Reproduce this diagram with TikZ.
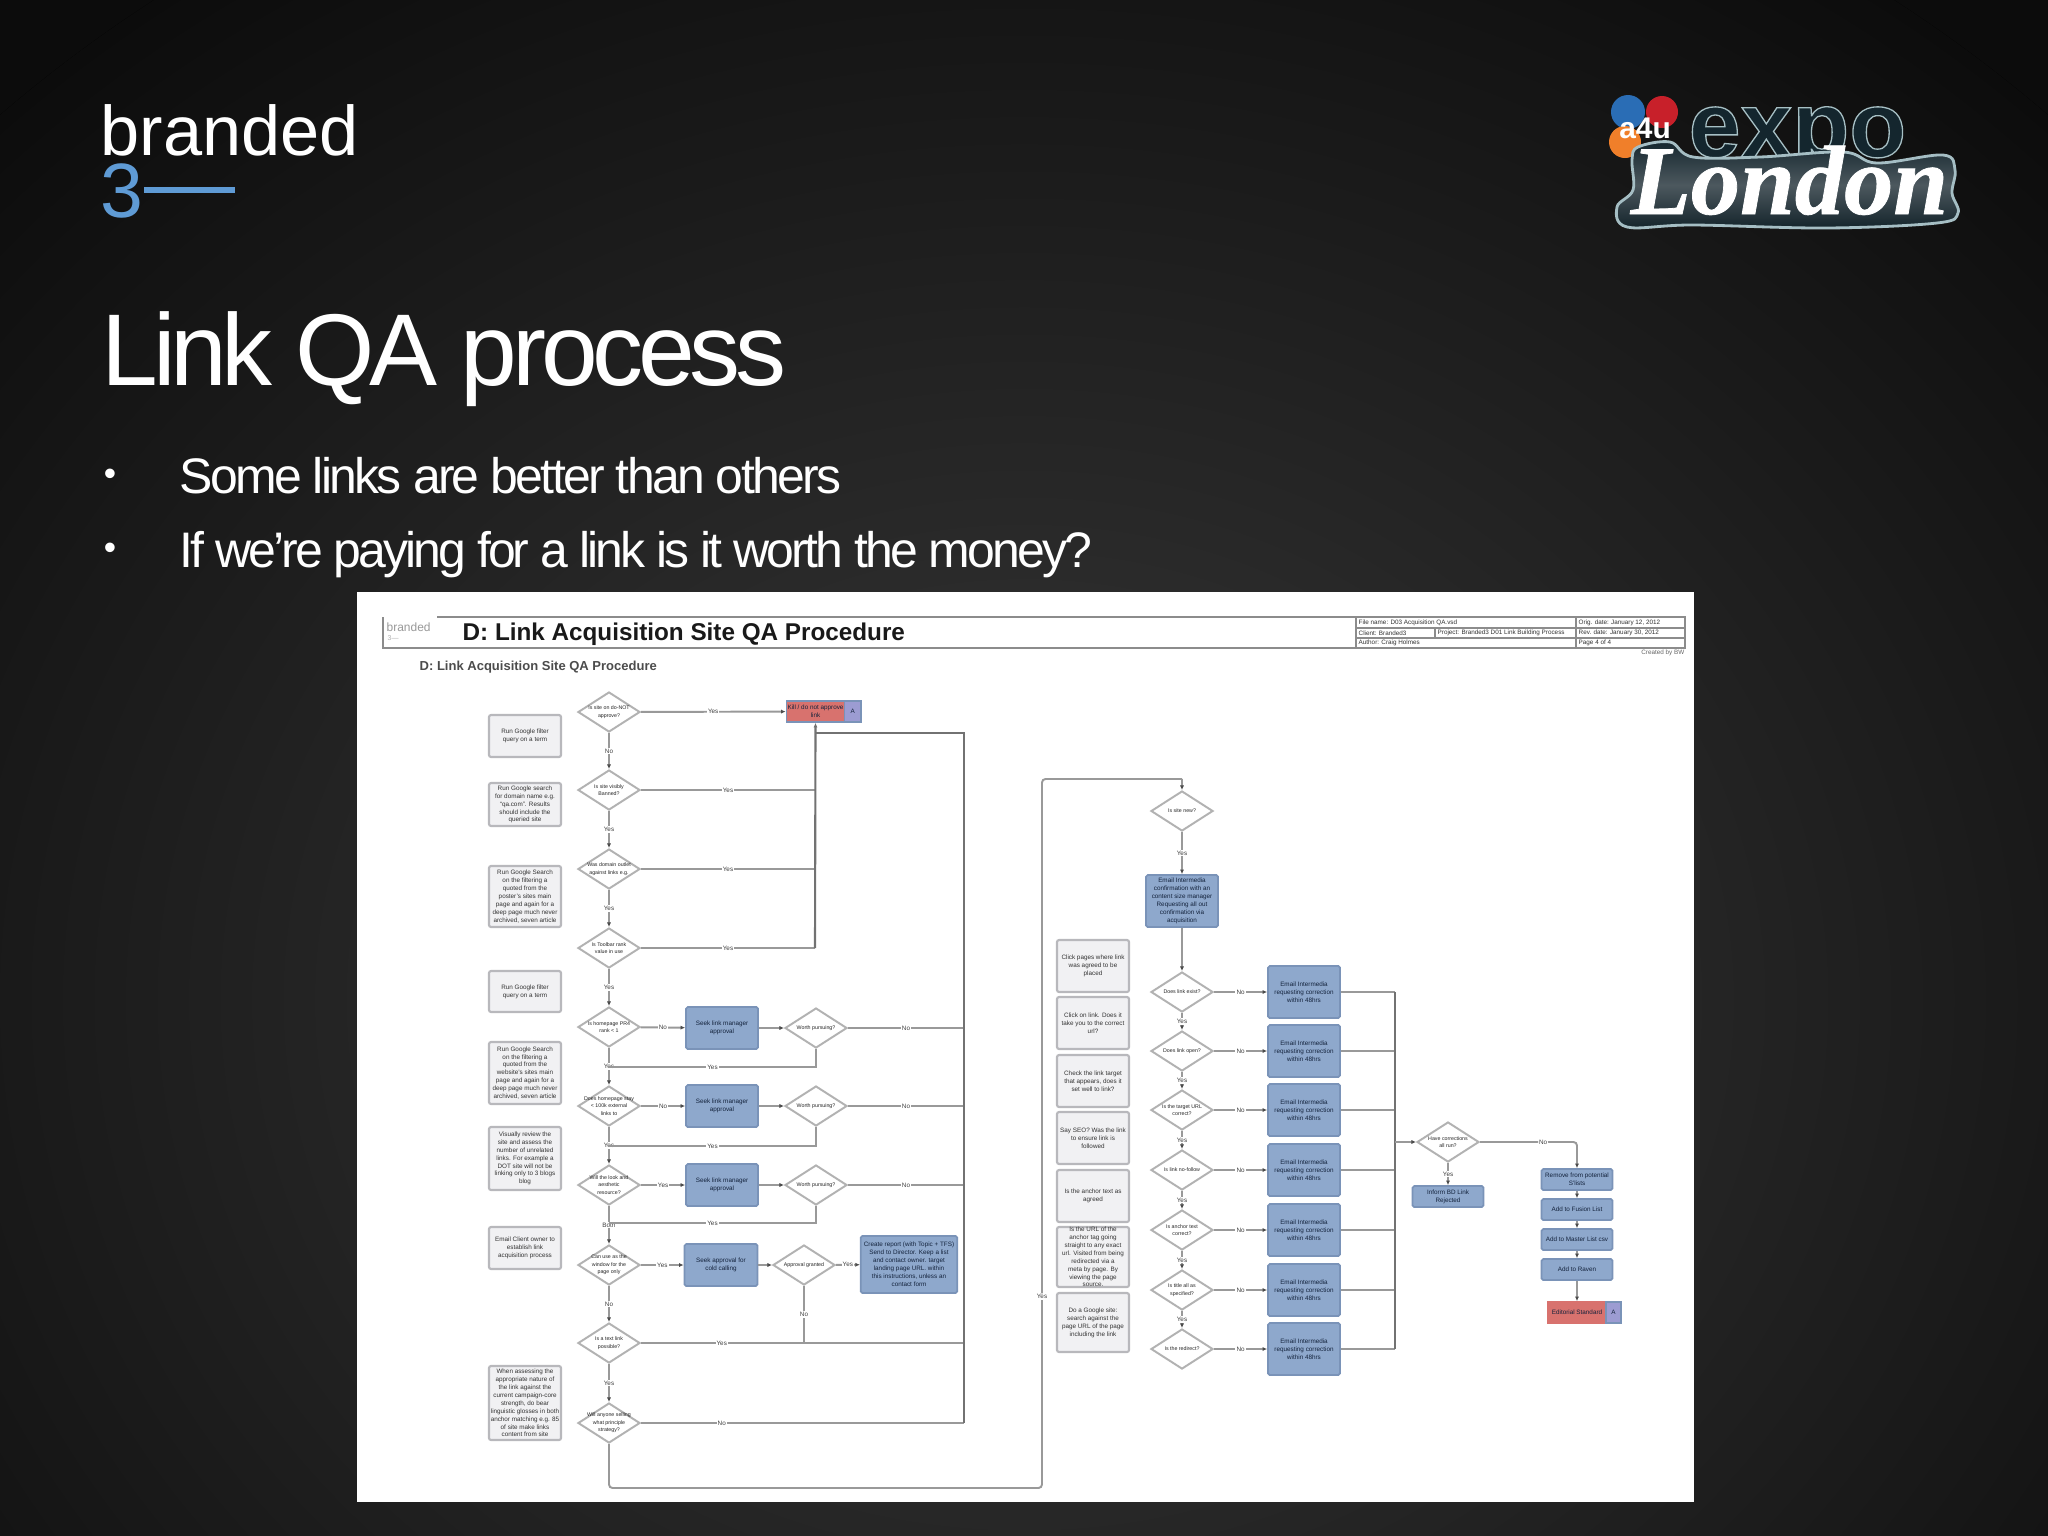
\documentclass[tikz,border=0pt]{standalone}
\usepackage{fontspec}
\setmainfont{Liberation Sans}
\newfontfamily\titlefont{Liberation Sans}[LetterSpace=-5.2]
\newfontfamily\slidefont{Liberation Sans}[LetterSpace=-5.5]
\newfontfamily\slidefontb{Liberation Sans}[LetterSpace=-5.9]
\newfontfamily\londonfont{Liberation Serif}[BoldItalicFeatures={FakeBold=0.8}]
\newfontfamily\expofont{Liberation Sans}[BoldFeatures={FakeBold=1.4}]
\usetikzlibrary{shapes.geometric,arrows.meta}
\definecolor{slidebg}{HTML}{3A3A3A}
\definecolor{slideedge}{HTML}{0C0C0C}
\definecolor{flowline}{HTML}{999999}
\definecolor{trunkline}{HTML}{727272}
\definecolor{notefill}{HTML}{F1F1F3}
\definecolor{noteline}{HTML}{B8B8BC}
\definecolor{bluefill}{HTML}{8EA8CC}
\definecolor{blueline}{HTML}{7A93B8}
\definecolor{bluetext}{HTML}{14233C}
\definecolor{redfill}{HTML}{D8726E}
\definecolor{purplefill}{HTML}{9C9CD2}
\definecolor{logoblue}{HTML}{5F9BD5}
\definecolor{blobdark}{HTML}{14262E}
\definecolor{blobmid}{HTML}{4C585E}
\definecolor{bloblight}{HTML}{A5BEC4}
\definecolor{ballblue}{HTML}{2A6DB5}
\definecolor{ballred}{HTML}{C8202A}
\definecolor{ballorange}{HTML}{F07F2A}
\newcommand{\tinytext}{\fontsize{1.8}{2.25}\selectfont}
\newcommand{\tinierdiamond}{\fontsize{1.5}{2.1}\selectfont}
\tikzset{
    notebox/.style={draw=noteline, fill=notefill, rounded corners=0.6pt, line width=0.6pt, inner sep=0pt,
        minimum width=0.72cm, align=center, font=\tinytext, text=black!80},
    bluebox/.style={draw=blueline, fill=bluefill, rounded corners=0.5pt, line width=0.5pt, inner sep=0pt,
        align=center, font=\tinytext, text=bluetext},
    decision/.style={diamond, draw=black!30, fill=white, line width=0.55pt, inner sep=-1.5pt, aspect=1.55,
        minimum width=0.62cm, minimum height=0.40cm, align=center, font=\tinierdiamond, text=black!85},
    flow/.style={draw=flowline, line width=0.55pt, -{Latex[length=1.3pt,width=1.2pt,black!70]}},
    plainflow/.style={draw=flowline, line width=0.55pt},
    trunk/.style={draw=trunkline, line width=0.6pt},
    lbl/.style={fill=white, inner sep=0.3pt, font=\tinytext, text=black!75},
    slidetext/.style={anchor=base west, inner sep=0pt, text=white},
    cellline/.style={draw=black!45, line width=0.4pt},
    celltext/.style={anchor=west, inner sep=0pt, font=\tinytext, text=black!80}
}
\begin{document}
\begin{tikzpicture}[x=0.01cm, y=-0.01cm]
    \useasboundingbox (0,0) rectangle (2048,1536);
    % slide background
    \fill[slideedge] (0,0) rectangle (2048,1536);
    \begin{scope}
        \clip (0,0) rectangle (2048,1536);
        \fill[inner color=slidebg, outer color=slideedge] (1024,1000) ellipse (1450 and 1250);
    \end{scope}

    % branded3 logo
    \node[slidetext, font=\fontsize{20}{20}\selectfont] (brand) at (100,155) {branded};
    \node[slidetext, text=logoblue, font=\fontsize{21.9}{22}\selectfont] (three) at (100,217) {3};
    \coordinate (bar_end) at (235,190);
    \draw[logoblue, line width=1.7pt] (three.east |- bar_end) -- (bar_end);

    % expo logo
    \fill[ballblue] (1628,112) circle (17) coordinate (ball_1);
    \fill[ballred] (1662,112) circle (16) coordinate (ball_2);
    \fill[ballorange] (1625,142) circle (16) coordinate (ball_3);
    \node[inner sep=0pt, text=white, font=\fontsize{8.5}{9}\bfseries\selectfont] (a4u) at (1645,128) {a4u};
    \node[slidetext, text=blobdark, font=\expofont\fontsize{26.5}{27}\bfseries\selectfont] (expo) at (1688,157)
        {\special{pdf:code 0.65 0.75 0.77 RG}expo};
    \draw[draw=bloblight, line width=0.8pt, top color=blobdark, bottom color=blobdark!90!black, middle color=blobmid]
        plot[smooth cycle, tension=0.6] coordinates {(1638,147) (1670,142) (1693,157) (1760,157) (1843,152) (1877,163)
        (1943,155) (1955,170) (1952,193) (1958,213) (1937,223) (1827,228) (1693,225) (1627,227) (1617,207) (1633,190) (1632,160)};
    \node[slidetext, font=\londonfont\fontsize{28}{28}\bfseries\itshape\selectfont] (london) at (1630,214) {London};

    % slide title and bullets
    \node[slidetext, font=\titlefont\fontsize{29}{30}\selectfont] (title) at (101,385) {Link QA process};
    \node[anchor=center, inner sep=0pt, text=white, font=\fontsize{10}{11}\selectfont] (dot_1) at (110,477) {•};
    \node[anchor=center, inner sep=0pt, text=white, font=\fontsize{10}{11}\selectfont] (dot_2) at (110,551) {•};
    \node[slidetext, font=\slidefont\fontsize{14.2}{15}\selectfont] (bullet_1) at (179,493) {Some links are better than others};
    \node[slidetext, font=\slidefontb\fontsize{14.2}{15}\selectfont] (bullet_2) at (179,567) {If we’re paying for a link is it worth the money?};

    % the sheet
    \fill[white] (357,592) rectangle (1694,1502);
    \draw[cellline] (383,617) -- (383,648) -- (1685,648) -- (1685,617) -- (437,617);
    \draw[cellline] (1356,617) -- (1356,648);
    \draw[cellline] (1576,617) -- (1576,648);
    \draw[cellline] (1435,628) -- (1435,638);
    \draw[cellline] (1356,628) -- (1685,628);
    \draw[cellline] (1356,638) -- (1685,638);
    \node[anchor=west, inner sep=0pt, text=black!40, font=\fontsize{3.4}{4}\selectfont] (sheet_logo) at (386,627) {branded};
    \node[anchor=west, inner sep=0pt, text=black!30, font=\fontsize{2}{2}\selectfont] (sheet_three) at (387,638) {3—};
    \node[anchor=west, inner sep=0pt, font=\fontsize{6.9}{7}\bfseries\selectfont, text=black!90] (sheet_title) at (462,634) {D: Link Acquisition Site QA Procedure};
    \node[anchor=west, inner sep=0pt, font=\fontsize{3.7}{4}\bfseries\selectfont, text=black!70] (sheet_sub) at (419,667) {D: Link Acquisition Site QA Procedure};
    \node[celltext] (cell_1) at (1358,622.5) {File name: D03 Acquisition QA.vsd};
    \node[celltext] (cell_2) at (1358,633) {Client: Branded3};
    \node[celltext] (cell_3) at (1437,633) {Project: Branded3 D01 Link Building Process};
    \node[celltext] (cell_4) at (1358,643) {Author: Craig Holmes};
    \node[celltext] (cell_5) at (1578,622.5) {Orig. date: January 12, 2012};
    \node[celltext] (cell_6) at (1578,633) {Rev. date: January 30, 2012};
    \node[celltext] (cell_7) at (1578,643) {Page 4 of 4};
    \node[anchor=east, inner sep=0pt, font=\tinytext, text=black!60] (cell_8) at (1685,653) {Created by BW};

    % left column notes
    \node[notebox, minimum height=0.42cm] (N_1) at (525,736) {Run Google filter\\query on a term};
    \node[notebox, minimum height=0.43cm] (N_2) at (525,804.5) {Run Google search\\for domain name e.g.\\``qa.com''. Results\\should include the\\queried site};
    \node[notebox, minimum height=0.61cm] (N_3) at (525,896.5) {Run Google Search\\on the filtering a\\quoted from the\\poster's sites main\\page and again for a\\deep page much never\\archived, seven article};
    \node[notebox, minimum height=0.41cm] (N_4) at (525,991.5) {Run Google filter\\query on a term};
    \node[notebox, minimum height=0.62cm] (N_5) at (525,1073) {Run Google Search\\on the filtering a\\quoted from the\\website's sites main\\page and again for a\\deep page much never\\archived, seven article};
    \node[notebox, minimum height=0.63cm] (N_6) at (525,1158.5) {Visually review the\\site and assess the\\number of unrelated\\links. For example a\\DOT site will not be\\linking only to 3 blogs\\blog};
    \node[notebox, minimum height=0.42cm] (N_7) at (525,1248) {Email Client owner to\\establish link\\acquisition process};
    \node[notebox, minimum height=0.74cm] (N_8) at (525,1403) {When assessing the\\appropriate nature of\\the link against the\\current campaign-core\\strength, do bear\\linguistic glosses in both\\anchor matching e.g. 85\\of site make links\\content from site};

    % left column decisions
    \node[decision] (D_1) at (609,712) {Is site on do-NOT\\approve?};
    \node[decision] (D_2) at (609,790) {Is site visibly\\Banned?};
    \node[decision] (D_3) at (609,869) {Was domain outlet\\against links e.g.};
    \node[decision] (D_4) at (609,948) {Is Toolbar rank\\value in use};
    \node[decision] (D_5) at (609,1027) {Is homepage PR4\\rank < 1};
    \node[decision] (D_6) at (609,1106) {Does homepage stay\\< 100k external\\links to};
    \node[decision] (D_7) at (609,1185) {Will the look and\\aesthetic\\resource?};
    \node[decision] (D_8) at (609,1265) {Can use as the\\window for the\\page only};
    \node[decision] (D_9) at (609,1343) {Is a text link\\possible?};
    \node[decision] (D_10) at (609,1423) {Will anyone selling\\what principle\\strategy?};

    % left column actions
    \node[bluebox, minimum width=0.72cm, minimum height=0.42cm] (B_1) at (722,1028) {Seek link manager\\approval};
    \node[bluebox, minimum width=0.72cm, minimum height=0.42cm] (B_2) at (722,1106) {Seek link manager\\approval};
    \node[bluebox, minimum width=0.72cm, minimum height=0.42cm] (B_3) at (722,1185) {Seek link manager\\approval};
    \node[bluebox, minimum width=0.73cm, minimum height=0.42cm] (B_4) at (721,1265) {Seek approval for\\cold calling};
    \node[decision] (E_1) at (816,1028) {Worth pursuing?};
    \node[decision] (E_2) at (816,1106) {Worth pursuing?};
    \node[decision] (E_3) at (816,1185) {Worth pursuing?};
    \node[decision] (E_4) at (804,1265) {Approval granted};
    \node[bluebox, minimum width=0.965cm, minimum height=0.57cm] (B_5) at (909,1264.5) {Create report (with Topic + TFS)\\Send to Director. Keep a list\\and contact owner. target\\landing page URL. within\\this instructions, unless an\\contact form};
    \node[bluebox, fill=redfill, minimum width=0.58cm, minimum height=0.21cm, rounded corners=0pt] (R_1) at (815.5,711.5) {Kill / do not approve\\link};
    \node[bluebox, fill=purplefill, minimum width=0.165cm, minimum height=0.21cm, rounded corners=0pt] (P_1) at (852.75,711.5) {A};

    % left column joins
    \coordinate (J_1) at (609,1067);
    \coordinate (J_2) at (609,1146);
    \coordinate (J_3) at (609,1223);
    \coordinate (T_top) at (964,733);
    \coordinate (T_1) at (964,1028);
    \coordinate (T_2) at (964,1106);
    \coordinate (T_3) at (964,1185);
    \coordinate (T_9) at (964,1343);
    \coordinate (T_10) at (964,1423);
    \coordinate (K_top) at (815,733);
    \coordinate (K_2) at (815,790);
    \coordinate (K_3) at (815,869);
    \coordinate (K_4) at (815,948);
    \coordinate (G_4) at (804,1343);
    \coordinate (S_1) at (609,1488);
    \coordinate (S_2) at (1042,1488);
    \coordinate (S_3) at (1042,779);
    \coordinate (S_4) at (1182,779);

    % left column connectors
    \draw[flow] (D_1) -- node[lbl] (L_1) {No} (D_2);
    \draw[flow] (D_2) -- node[lbl] (L_2) {Yes} (D_3);
    \draw[flow] (D_3) -- node[lbl] (L_3) {Yes} (D_4);
    \draw[flow] (D_4) -- node[lbl] (L_4) {Yes} (D_5);
    \draw[flow] (D_5) -- node[lbl] (L_5) {Yes} (D_6);
    \draw[flow] (D_6) -- node[lbl] (L_6) {Yes} (D_7);
    \draw[flow] (D_7) -- node[lbl] (L_7) {Both} (D_8);
    \draw[flow] (D_8) -- node[lbl] (L_8) {No} (D_9);
    \draw[flow] (D_9) -- node[lbl] (L_9) {Yes} (D_10);
    \draw[flow] (D_1) -- node[lbl] (L_10) {Yes} (R_1);
    \draw[plainflow] (D_2) -- node[lbl] (L_11) {Yes} (K_2);
    \draw[plainflow] (D_3) -- node[lbl] (L_12) {Yes} (K_3);
    \draw[plainflow] (D_4) -- node[lbl] (L_13) {Yes} (K_4);
    \draw[trunk, -{Latex[length=1.3pt,width=1.2pt]}] (K_4) -- (R_1.south);
    \draw[flow] (D_5) -- node[lbl] (L_14) {No} (B_1);
    \draw[flow] (D_6) -- node[lbl] (L_15) {No} (B_2);
    \draw[flow] (D_7) -- node[lbl] (L_16) {Yes} (B_3);
    \draw[flow] (D_8) -- node[lbl] (L_17) {Yes} (B_4);
    \draw[flow] (B_1) -- (E_1);
    \draw[flow] (B_2) -- (E_2);
    \draw[flow] (B_3) -- (E_3);
    \draw[flow] (B_4) -- (E_4);
    \draw[flow] (E_4) -- node[lbl] (L_18) {Yes} (B_5);
    \draw[plainflow] (E_1) |- node[lbl, pos=0.75] (L_19) {Yes} (J_1);
    \draw[plainflow] (E_2) |- node[lbl, pos=0.75] (L_20) {Yes} (J_2);
    \draw[plainflow] (E_3) |- node[lbl, pos=0.75] (L_21) {Yes} (J_3);
    \draw[plainflow] (E_1) -- node[lbl] (L_22) {No} (T_1);
    \draw[plainflow] (E_2) -- node[lbl] (L_23) {No} (T_2);
    \draw[plainflow] (E_3) -- node[lbl] (L_24) {No} (T_3);
    \draw[plainflow] (E_4) -- node[lbl] (L_25) {No} (G_4);
    \draw[plainflow] (D_9) -- node[lbl, pos=0.25] (L_26) {Yes} (T_9);
    \draw[plainflow] (D_10) -- node[lbl, pos=0.25] (L_27) {No} (T_10);
    \draw[trunk] (T_10) -- (T_top) -- (K_top);
    \draw[plainflow, rounded corners=1pt] (D_10) -- (S_1) -- (S_2) -- node[lbl, pos=0.27] (L_28) {Yes} (S_3) -- (S_4);

    % middle column
    \node[decision] (M_0) at (1182,811) {Is site new?};
    \node[bluebox, minimum width=0.72cm, minimum height=0.52cm] (A_0) at (1182,901) {Email Intermedia\\confirmation with an\\content size manager\\Requesting all out\\confirmation via\\acquisition};
    \node[decision] (M_1) at (1182,992) {Does link exist?};
    \node[decision] (M_2) at (1182,1051) {Does link open?};
    \node[decision] (M_3) at (1182,1110) {Is the target URL\\correct?};
    \node[decision] (M_4) at (1182,1170) {Is link no-follow};
    \node[decision] (M_5) at (1182,1230) {Is anchor text\\correct?};
    \node[decision] (M_6) at (1182,1290) {Is title all as\\specified?};
    \node[decision] (M_7) at (1182,1349) {Is the redirect?};
    \node[bluebox, minimum width=0.72cm, minimum height=0.52cm] (A_1) at (1304,992) {Email Intermedia\\requesting correction\\within 48hrs};
    \node[bluebox, minimum width=0.72cm, minimum height=0.52cm] (A_2) at (1304,1051) {Email Intermedia\\requesting correction\\within 48hrs};
    \node[bluebox, minimum width=0.72cm, minimum height=0.52cm] (A_3) at (1304,1110) {Email Intermedia\\requesting correction\\within 48hrs};
    \node[bluebox, minimum width=0.72cm, minimum height=0.52cm] (A_4) at (1304,1170) {Email Intermedia\\requesting correction\\within 48hrs};
    \node[bluebox, minimum width=0.72cm, minimum height=0.52cm] (A_5) at (1304,1230) {Email Intermedia\\requesting correction\\within 48hrs};
    \node[bluebox, minimum width=0.72cm, minimum height=0.52cm] (A_6) at (1304,1290) {Email Intermedia\\requesting correction\\within 48hrs};
    \node[bluebox, minimum width=0.72cm, minimum height=0.52cm] (A_7) at (1304,1349) {Email Intermedia\\requesting correction\\within 48hrs};
    \node[notebox, minimum height=0.52cm] (O_1) at (1093,966) {Click pages where link\\was agreed to be\\placed};
    \node[notebox, minimum height=0.52cm] (O_2) at (1093,1023) {Click on link. Does it\\take you to the correct\\url?};
    \node[notebox, minimum height=0.52cm] (O_3) at (1093,1081) {Check the link target\\that appears, does it\\set well to link?};
    \node[notebox, minimum height=0.52cm] (O_4) at (1093,1138) {Say SEO? Was the link\\to ensure link is\\followed};
    \node[notebox, minimum height=0.52cm] (O_5) at (1093,1196) {Is the anchor text as\\agreed};
    \node[notebox, minimum height=0.60cm] (O_6) at (1093,1257) {Is the URL of the\\anchor tag going\\straight to any exact\\url. Visited from being\\redirected via a\\meta by page. By\\viewing the page\\source.};
    \node[notebox, minimum height=0.59cm] (O_7) at (1093,1322.5) {Do a Google site:\\search against the\\page URL of the page\\including the link};

    % middle column joins
    \coordinate (C_1) at (1395,992);
    \coordinate (C_2) at (1395,1051);
    \coordinate (C_3) at (1395,1110);
    \coordinate (C_4) at (1395,1170);
    \coordinate (C_5) at (1395,1230);
    \coordinate (C_6) at (1395,1290);
    \coordinate (C_7) at (1395,1349);
    \coordinate (C_0) at (1395,1142);

    % middle column connectors
    \draw[flow] (S_4) -- (M_0);
    \draw[flow] (M_0) -- node[lbl] (M_L0) {Yes} (A_0);
    \draw[flow] (A_0) -- (M_1);
    \draw[flow] (M_1) -- node[lbl] (M_L1) {Yes} (M_2);
    \draw[flow] (M_2) -- node[lbl] (M_L2) {Yes} (M_3);
    \draw[flow] (M_3) -- node[lbl] (M_L3) {Yes} (M_4);
    \draw[flow] (M_4) -- node[lbl] (M_L4) {Yes} (M_5);
    \draw[flow] (M_5) -- node[lbl] (M_L5) {Yes} (M_6);
    \draw[flow] (M_6) -- node[lbl] (M_L6) {Yes} (M_7);
    \draw[flow] (M_1) -- node[lbl] (M_L7) {No} (A_1);
    \draw[flow] (M_2) -- node[lbl] (M_L8) {No} (A_2);
    \draw[flow] (M_3) -- node[lbl] (M_L9) {No} (A_3);
    \draw[flow] (M_4) -- node[lbl] (M_L10) {No} (A_4);
    \draw[flow] (M_5) -- node[lbl] (M_L11) {No} (A_5);
    \draw[flow] (M_6) -- node[lbl] (M_L12) {No} (A_6);
    \draw[flow] (M_7) -- node[lbl] (M_L13) {No} (A_7);
    \draw[plainflow] (A_1) -- (C_1);
    \draw[plainflow] (A_2) -- (C_2);
    \draw[plainflow] (A_3) -- (C_3);
    \draw[plainflow] (A_4) -- (C_4);
    \draw[plainflow] (A_5) -- (C_5);
    \draw[plainflow] (A_6) -- (C_6);
    \draw[plainflow] (A_7) -- (C_7);
    \draw[trunk] (C_1) -- (C_7);

    % right part
    \node[decision] (Q_1) at (1448,1142) {Have corrections\\all run?};
    \node[bluebox, minimum width=0.71cm, minimum height=0.21cm] (F_1) at (1448,1196.5) {Inform BD Link\\Rejected};
    \node[bluebox, minimum width=0.71cm, minimum height=0.21cm] (F_2) at (1577,1179.5) {Remove from potential\\S'lists};
    \node[bluebox, minimum width=0.71cm, minimum height=0.21cm] (F_3) at (1577,1209.5) {Add to Fusion List};
    \node[bluebox, minimum width=0.71cm, minimum height=0.21cm] (F_4) at (1577,1239.5) {Add to Master List csv};
    \node[bluebox, minimum width=0.71cm, minimum height=0.21cm] (F_5) at (1577,1269.5) {Add to Raven};
    \node[bluebox, fill=redfill, draw=redfill, minimum width=0.58cm, minimum height=0.21cm, rounded corners=0pt] (R_2) at (1577,1312.5) {Editorial Standard};
    \node[bluebox, fill=purplefill, minimum width=0.15cm, minimum height=0.21cm, rounded corners=0pt] (P_2) at (1613.5,1312.5) {A};
    \coordinate (Q_2) at (1577,1142);
    \draw[flow] (C_0) -- (Q_1);
    \draw[flow] (Q_1) -- node[lbl] (Q_L1) {Yes} (F_1);
    \draw[flow, rounded corners=1pt] (Q_1) -- node[lbl, pos=0.65] (Q_L2) {No} (Q_2) -- (F_2);
    \draw[flow] (F_2) -- (F_3);
    \draw[flow] (F_3) -- (F_4);
    \draw[flow] (F_4) -- (F_5);
    \draw[flow] (F_5) -- (R_2);
\end{tikzpicture}
\end{document}
